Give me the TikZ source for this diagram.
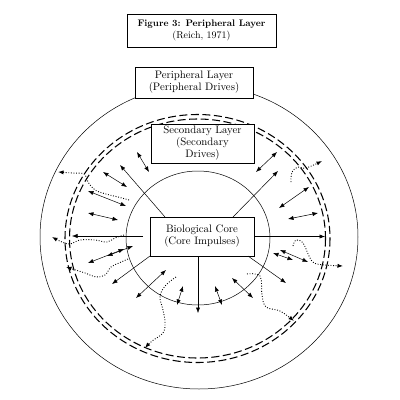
\documentclass[tikz,border=0pt]{standalone}
\usetikzlibrary{arrows.meta}
\begin{document}
\begin{tikzpicture}[x=1pt,y=-1pt,
  thinline/.style={line width=0.5pt},
  sarr/.style={thinline,-{Latex[length=5.5pt,width=4.2pt]}},
  darr/.style={thinline,{Latex[length=5.5pt,width=4.2pt]}-{Latex[length=5.5pt,width=4.2pt]}},
  dotarr/.style={line width=0.9pt,dash pattern=on 0.9pt off 1.7pt,line cap=butt,-{Latex[length=5.5pt,width=4.2pt]}},
  ringdash/.style={line width=1.05pt,dash pattern=on 8pt off 3.5pt},
  labelbox/.style={draw,line width=0.6pt,fill=white,align=center,inner sep=0pt,
     font=\fontsize{10.8}{12}\selectfont}]
\useasboundingbox (0,0) rectangle (400,400);
\fill[white] (0,0) rectangle (400,400);

% rings
\draw[thinline] (199,237) ellipse [x radius=159, y radius=152];
\draw[ringdash] (197.5,238.5) ellipse [x radius=132.5, y radius=124];
\draw[ringdash] (197.5,238.5) ellipse [x radius=128, y radius=119.5];
\draw[thinline] (198,238) ellipse [x radius=72, y radius=67];

% title
\node[draw,line width=0.7pt,minimum width=149pt,minimum height=33pt,inner sep=0pt,align=center,
  font=\fontsize{10}{12}\selectfont] (title) at (201.5,30.5)
  {\fontsize{9.5}{12}\selectfont\textbf{Figure 3: Peripheral Layer}\\(Reich, 1971)};

% boxes
\node[labelbox,minimum width=118pt,minimum height=31pt] (peri) at (194,82.5)
  {Peripheral Layer\\(Peripheral Drives)};
\node[labelbox,minimum width=103pt,minimum height=39pt] (sec) at (202.5,143.5)
  {Secondary Layer\\(Secondary\\Drives)};
\node[labelbox,minimum width=104pt,minimum height=39pt] (core) at (202,236.5)
  {Biological Core\\(Core Impulses)};

% radiating single arrows
\draw[sarr] (165,217) -- (120,165);
\draw[sarr] (233,217) -- (278,171);
\draw[sarr] (143,236) -- (72,236);
\draw[sarr] (core.east) -- (325,236.5);
\draw[sarr] (198,256) -- (198,313);
\draw[sarr] (150,256) -- (112,284);
\draw[sarr] (248,256) -- (286,283);

% double arrows
\draw[darr] (137,152) -- (149,172);
\draw[darr] (103,172) -- (127,187);
\draw[darr] (88,191) -- (126,206);
\draw[darr] (88,213) -- (118,220);
\draw[darr] (88,263) -- (124,249);
\draw[darr] (107,256) -- (133,246);
\draw[darr] (136,298) -- (166,270);
\draw[darr] (177,305) -- (183,286);
\draw[darr] (222,305) -- (215,286);
\draw[darr] (232,278) -- (253,298);
\draw[darr] (273,253) -- (293,260);
\draw[darr] (280,250) -- (308,262);
\draw[darr] (256,172) -- (277,152);
\draw[darr] (279,208) -- (309,187);
\draw[darr] (288,219) -- (318,213);

% dotted wandering arrows
\draw[dotarr] plot[smooth,tension=0.6] coordinates {(129,200) (118,197) (106,194) (95,190) (88,182) (84,174) (72,173) (58,172)};
\draw[dotarr] plot[smooth,tension=0.6] coordinates {(124,235) (115,238) (107,242) (95,240) (80,240) (70,244) (62,242) (52,237)};
\draw[dotarr] plot[smooth,tension=0.6] coordinates {(128,259) (119,263) (111,267) (105,275) (96,277) (85,273) (66,267)};
\draw[dotarr] plot[smooth,tension=0.6] coordinates {(176,277) (166,285) (160,296) (163,310) (165,322) (163,333) (152,341) (145,348)};
\draw[dotarr] plot[smooth,tension=0.6] coordinates {(247,274) (260,276) (262,295) (266,307) (280,311) (294,321)};
\draw[dotarr] plot[smooth,tension=0.6] coordinates {(293,246) (296,240) (303,243) (309,256) (314,263) (325,265) (343,266)};
\draw[dotarr] plot[smooth,tension=0.6] coordinates {(291,182) (292,172) (298,167) (306,168) (322,161)};
\end{tikzpicture}
\end{document}
